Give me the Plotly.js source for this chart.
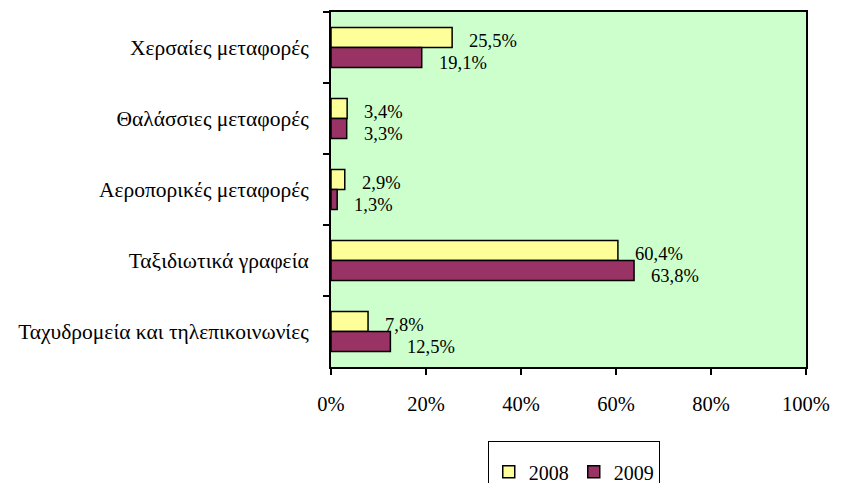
<!DOCTYPE html>
<html>
<head>
<meta charset="utf-8">
<script src="https://cdn.plot.ly/plotly-3.0.1.min.js"></script>
<style>html,body{margin:0;padding:0;background:#fff;}#chart{width:841px;height:483px;}</style>
</head>
<body>
<div id="chart"></div>
<script>
const categories = ["Χερσαίες μεταφορές", "Θαλάσσιες μεταφορές", "Αεροπορικές μεταφορές", "Ταξιδιωτικά γραφεία", "Ταχυδρομεία και τηλεπικοινωνίες"];
const seriesNames = ["2008", "2009"];
const values2008 = [25.5, 3.4, 2.9, 60.4, 7.8];
const values2009 = [19.1, 3.3, 1.3, 63.8, 12.5];
const xTickVals = [0, 20, 40, 60, 80, 100];
const xTickText = ["0%", "20%", "40%", "60%", "80%", "100%"];

const FONT = "Times New Roman";
const colors = ["#FFFF99", "#993366"];
const bargap = 0.44;

const fmt = v => v.toFixed(1).replace('.', ',') + '%';

const traces = [values2008, values2009].map((vals, i) => ({
  type: 'bar',
  orientation: 'h',
  name: seriesNames[i],
  y: categories,
  x: vals,
  marker: {color: colors[i], line: {color: '#000', width: 1.5}},
  hoverinfo: 'x+y'
}));

const half = (1 - bargap) / 4;
const annotations = [];
[values2008, values2009].forEach((vals, s) => {
  vals.forEach((v, i) => {
    annotations.push({
      x: v, y: i + (s === 0 ? -half : half),
      xref: 'x', yref: 'y',
      text: fmt(v), showarrow: false,
      xanchor: 'left', yanchor: 'middle',
      xshift: 15, yshift: s === 0 ? -3 : -6,
      font: {family: FONT, size: 18.5, color: '#000'}
    });
  });
});

const layout = {
  width: 841, height: 483,
  margin: {l: 331, r: 35, t: 12, b: 116, pad: 0, autoexpand: false},
  paper_bgcolor: '#fff',
  plot_bgcolor: '#CCFFCC',
  barmode: 'group',
  bargap: bargap,
  bargroupgap: 0,
  font: {family: FONT, size: 18, color: '#000'},
  xaxis: {
    range: [0, 100], tickvals: xTickVals, ticktext: xTickText,
    showgrid: false, zeroline: false,
    showline: true, linecolor: '#000', linewidth: 2, mirror: true,
    ticks: 'outside', ticklen: 6, tickcolor: '#000', tickwidth: 2,
    ticklabelstandoff: 11,
    tickfont: {family: FONT, size: 20.5, color: '#000'}
  },
  yaxis: {
    autorange: 'reversed', type: 'category',
    showgrid: false, zeroline: false,
    showline: true, linecolor: '#000', linewidth: 2, mirror: true,
    ticks: 'outside', ticklen: 6, tickcolor: '#000', tickwidth: 2,
    tickson: 'boundaries',
    ticklabelstandoff: 16,
    tickfont: {family: FONT, size: 21.5, color: '#000'}
  },
  showlegend: true,
  legend: {
    orientation: 'h', x: 0.33, xanchor: 'left', y: -0.208, yanchor: 'top',
    bordercolor: '#000', borderwidth: 1, bgcolor: '#fff',
    font: {family: FONT, size: 20, color: '#000'},
    title: {text: '&nbsp;', side: 'top', font: {family: FONT, size: 8}},
    itemwidth: 30
  },
  annotations: annotations
};

Plotly.newPlot('chart', traces, layout, {displayModeBar: false, staticPlot: true});
</script>
</body>
</html>
